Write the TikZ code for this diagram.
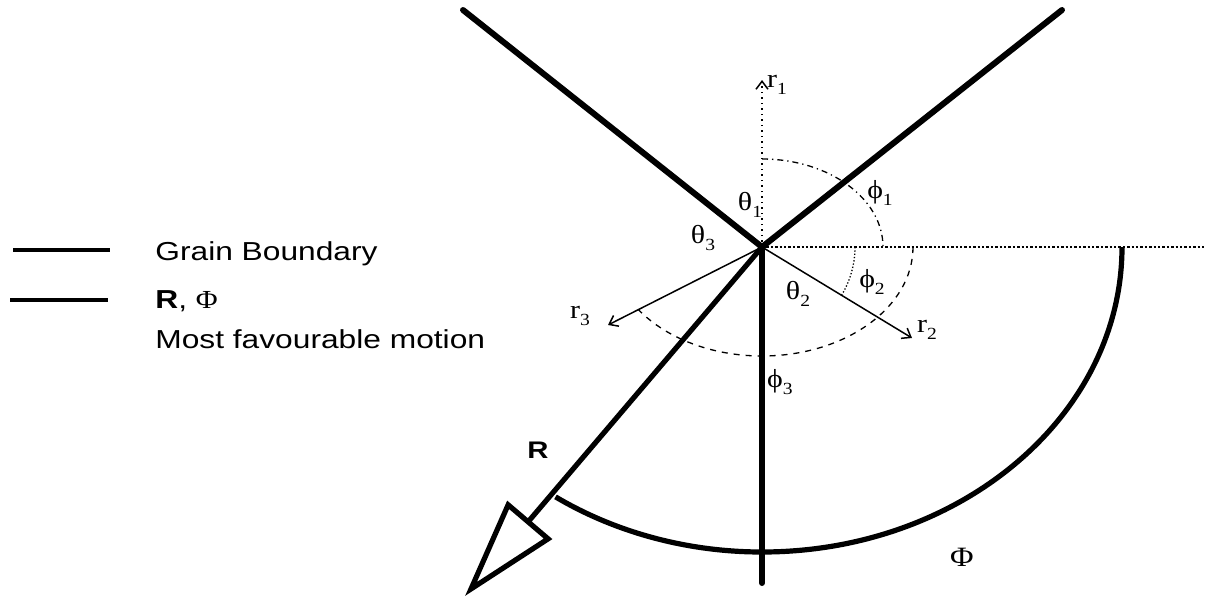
\documentclass[tikz,border=0pt]{standalone}
\usepackage{fontspec}
\setmainfont{Liberation Sans}[FakeStretch=1.22]
\newfontfamily\grk{Liberation Serif}[FakeStretch=1.15]
\usepackage{tikz}
\usetikzlibrary{arrows.meta}
\newcommand{\lblsub}[2]{{\grk #1\raisebox{-0.55ex}{\fontsize{8.5}{9}\selectfont #2}}}
\tikzset{
  boundary/.style={line width=3pt,line cap=round,line join=round},
  motion/.style={line width=2.6pt},
  raxis/.style={line width=0.75pt,-{Straight Barb[length=4pt,width=6pt]}},
  anglearc/.style={line width=0.65pt},
  glabel/.style={font=\fontsize{13}{15}\selectfont,inner sep=0pt},
  legtext/.style={font=\fontsize{13}{15}\selectfont,anchor=base west,inner sep=0pt}
}
\begin{document}
\begin{tikzpicture}[x=0.5pt,y=-0.5pt]
  \useasboundingbox (0,0) rectangle (1206,601);
  % junction and end points
  \coordinate (O) at (762,247);
  \coordinate (gbL) at (463,10);
  \coordinate (gbR) at (1062,10);
  \coordinate (gbB) at (762,583);
  \coordinate (r1) at (762,80);
  \coordinate (r2) at (912,338);
  \coordinate (r3) at (608,325);
  \coordinate (hz) at (1206,247);
  \coordinate (Rtip) at (465,596);
  % reference axes
  \draw[line width=1.2pt,densely dotted] (O) -- (hz);
  \draw[raxis,dotted] (O) -- (r1);
  \draw[raxis] (O) -- (r2);
  \draw[raxis] (O) -- (r3);
  % angle arcs
  \draw[anglearc,dash dot] (O) ++(0,-88) arc[start angle=-90,end angle=0,x radius=121,y radius=88];
  \draw[anglearc,densely dotted] (O) ++(93,0) arc[start angle=0,end angle=31,radius=93];
  \draw[anglearc,dashed] (O) ++(151,0) arc[start angle=0,end angle=145,x radius=151,y radius=109];
  % grain boundaries
  \draw[boundary] (gbL) -- (O) -- (gbR);
  \draw[boundary] (O) -- (gbB);
  % most favourable motion
  \draw[motion,-{Triangle[open,length=50pt,width=29pt]}] (O) -- (Rtip);
  \draw[motion] (O) ++(360,0) arc[start angle=0,end angle=125,x radius=360,y radius=305];
  % labels
  \node[glabel] (lr1) at (777,85) {\lblsub{r}{1}};
  \node[glabel] (lt1) at (750,205) {\lblsub{θ}{1}};
  \node[glabel] (lt3) at (703,238) {\lblsub{θ}{3}};
  \node[glabel] (lp1) at (880,193) {\lblsub{ϕ}{1}};
  \node[glabel] (lp2) at (872,282) {\lblsub{ϕ}{2}};
  \node[glabel] (lt2) at (798,294) {\lblsub{θ}{2}};
  \node[glabel] (lr2) at (927,330) {\lblsub{r}{2}};
  \node[glabel] (lr3) at (580,316) {\lblsub{r}{3}};
  \node[glabel] (lp3) at (780,382) {\lblsub{ϕ}{3}};
  \node[glabel,font=\fontsize{14}{15}\selectfont\grk] (lPhi) at (962,557) {Φ};
  \node[glabel,font=\fontsize{12}{14}\selectfont\bfseries] (lR) at (538,450) {R};
  % legend
  \draw[line width=2.3pt] (13,250) -- (110,250);
  \draw[line width=1.6pt] (10,300) -- (108,300);
  \node[legtext] (leg1) at (155,260) {Grain Boundary};
  \node[legtext] (leg2) at (155,308) {\textbf{R}, {\grk Φ}};
  \node[legtext] (leg3) at (155,348) {Most favourable motion};
\end{tikzpicture}
\end{document}
